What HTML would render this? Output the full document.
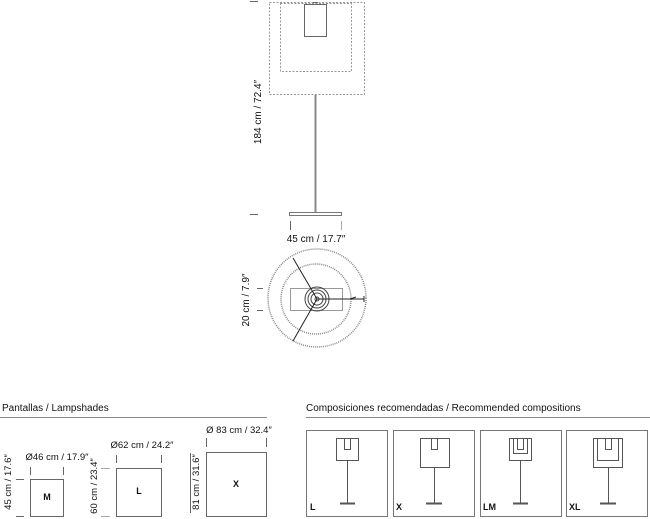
<!DOCTYPE html>
<html><head><meta charset="utf-8"><style>
html,body{margin:0;padding:0;background:#fff;}
svg{display:block;font-family:"Liberation Sans",sans-serif;}
text{fill:#111;}
</style></head><body>
<svg width="650" height="519" viewBox="0 0 650 519" xmlns="http://www.w3.org/2000/svg">
<!-- elevation -->
<g fill="none">
<rect x="269.5" y="2.5" width="95" height="92" stroke="#999" stroke-dasharray="2,1.5"/>
<rect x="280.5" y="3.5" width="71" height="68" stroke="#999" stroke-dasharray="2,1.5"/>
<rect x="304.5" y="4.5" width="22" height="32" stroke="#666"/>
<line x1="313" y1="2.5" x2="318" y2="2.5" stroke="#666"/>
<line x1="315.5" y1="95" x2="315.5" y2="212" stroke="#888" stroke-width="2"/>
<rect x="289.5" y="212.5" width="52" height="3" stroke="#777"/>
<line x1="250" y1="1.5" x2="258" y2="1.5" stroke="#666"/>
<line x1="250" y1="214.5" x2="258" y2="214.5" stroke="#666"/>
<line x1="290.5" y1="221" x2="290.5" y2="230" stroke="#666"/>
<line x1="341.5" y1="221" x2="341.5" y2="230" stroke="#aaa"/>
</g>
<text x="258" y="112" font-size="10" text-anchor="middle" transform="rotate(-90 258 112)" dy="3">184 cm / 72.4″</text>
<text x="316" y="242" font-size="10" text-anchor="middle">45 cm / 17.7″</text>
<!-- plan -->
<g fill="none">
<circle cx="317" cy="298" r="49" stroke="#888" stroke-width="1.5" stroke-dasharray="1,1"/>
<circle cx="316" cy="299" r="35" stroke="#888" stroke-width="1.5" stroke-dasharray="1,1"/>
<rect x="290.5" y="288.5" width="52" height="22" stroke="#999"/>
<circle cx="317" cy="299" r="12" stroke="#444"/>
<circle cx="317" cy="299" r="9" stroke="#444"/>
<circle cx="317" cy="299" r="6" stroke="#444"/>
<circle cx="317" cy="299" r="2" stroke="#444"/>
<line x1="317" y1="299" x2="293" y2="258" stroke="#222"/>
<line x1="317" y1="299" x2="293" y2="341" stroke="#222"/>
<line x1="317" y1="299" x2="364" y2="299" stroke="#222"/>
<line x1="350" y1="299" x2="356" y2="297" stroke="#222"/>
<line x1="364" y1="296" x2="364" y2="302" stroke="#222"/>
<line x1="257" y1="288.5" x2="263" y2="288.5" stroke="#666"/>
<line x1="257" y1="310.5" x2="263" y2="310.5" stroke="#666"/>
</g>
<text x="246" y="300" font-size="10" text-anchor="middle" transform="rotate(-90 246 300)" dy="3">20 cm / 7.9″</text>
<!-- lampshades -->
<text x="2" y="411" font-size="10">Pantallas / Lampshades</text>
<line x1="0" y1="417.5" x2="267" y2="417.5" stroke="#888"/>
<g fill="none" stroke="#666">
<rect x="30.5" y="479.5" width="33" height="37"/>
<rect x="116.5" y="468.5" width="45" height="48"/>
<rect x="206.5" y="452.5" width="60" height="64"/>
<line x1="30.5" y1="467" x2="30.5" y2="475"/>
<line x1="63.5" y1="467" x2="63.5" y2="475"/>
<line x1="116.5" y1="455" x2="116.5" y2="463"/>
<line x1="161.5" y1="455" x2="161.5" y2="463"/>
<line x1="206.5" y1="438" x2="206.5" y2="447"/>
<line x1="266.5" y1="438" x2="266.5" y2="447"/>
<line x1="16" y1="479.5" x2="24" y2="479.5"/>
<line x1="16" y1="516.5" x2="24" y2="516.5"/>
<line x1="101" y1="468.5" x2="110" y2="468.5" stroke="#aaa"/>
<line x1="101" y1="516.5" x2="110" y2="516.5" stroke="#aaa"/>
<line x1="190.5" y1="453" x2="190.5" y2="513"/>
</g>
<text x="47" y="500" font-size="9" font-weight="bold" text-anchor="middle">M</text>
<text x="139" y="494" font-size="9" font-weight="bold" text-anchor="middle">L</text>
<text x="236" y="487" font-size="9" font-weight="bold" text-anchor="middle">X</text>
<text x="57" y="460" font-size="9.5" text-anchor="middle">Ø46 cm / 17.9″</text>
<text x="142" y="448" font-size="9.5" text-anchor="middle">Ø62 cm / 24.2″</text>
<text x="239" y="433" font-size="9.5" text-anchor="middle">Ø 83 cm / 32.4″</text>
<text x="8" y="482" font-size="9.5" text-anchor="middle" transform="rotate(-90 8 482)" dy="3">45 cm / 17.6″</text>
<text x="94" y="486" font-size="9.5" text-anchor="middle" transform="rotate(-90 94 486)" dy="3">60 cm / 23.4″</text>
<text x="196" y="482" font-size="9.5" text-anchor="middle" transform="rotate(-90 196 482)" dy="3">81 cm / 31.6″</text>
<!-- compositions -->
<text x="306" y="411" font-size="10">Composiciones recomendadas / Recommended compositions</text>
<line x1="306" y1="417.5" x2="650" y2="417.5" stroke="#888"/>
<g fill="none" stroke="#777">
<rect x="306.5" y="430.5" width="81" height="86"/>
<rect x="393.5" y="430.5" width="81" height="86"/>
<rect x="480.5" y="430.5" width="81" height="86"/>
<rect x="566.5" y="430.5" width="81" height="86"/>
</g>
<g fill="none" stroke="#555">
<rect x="336.5" y="438.5" width="22" height="22"/><rect x="344.5" y="438.5" width="6" height="11"/>
<line x1="347.5" y1="461" x2="347.5" y2="503"/><line x1="340" y1="503.5" x2="355" y2="503.5" stroke-width="2"/>
<rect x="420.5" y="438.5" width="29" height="29"/><rect x="431.5" y="438.5" width="6" height="11"/>
<line x1="434.5" y1="468" x2="434.5" y2="503"/><line x1="426" y1="503.5" x2="442" y2="503.5" stroke-width="2"/>
<rect x="509.5" y="438.5" width="22" height="22"/><rect x="513.5" y="438.5" width="14" height="15"/><rect x="517.5" y="438.5" width="6" height="11"/>
<line x1="520.5" y1="461" x2="520.5" y2="503"/><line x1="513" y1="503.5" x2="528" y2="503.5" stroke-width="2"/>
<rect x="593.5" y="438.5" width="29" height="29"/><rect x="597.5" y="438.5" width="21" height="22"/><rect x="605.5" y="438.5" width="6" height="11"/>
<line x1="608.5" y1="468" x2="608.5" y2="503"/><line x1="600" y1="503.5" x2="616" y2="503.5" stroke-width="2"/>
</g>
<g font-size="9" font-weight="bold">
<text x="310" y="510">L</text><text x="396" y="510">X</text><text x="483" y="510">LM</text><text x="569" y="510">XL</text>
</g>
</svg>
</body></html>
